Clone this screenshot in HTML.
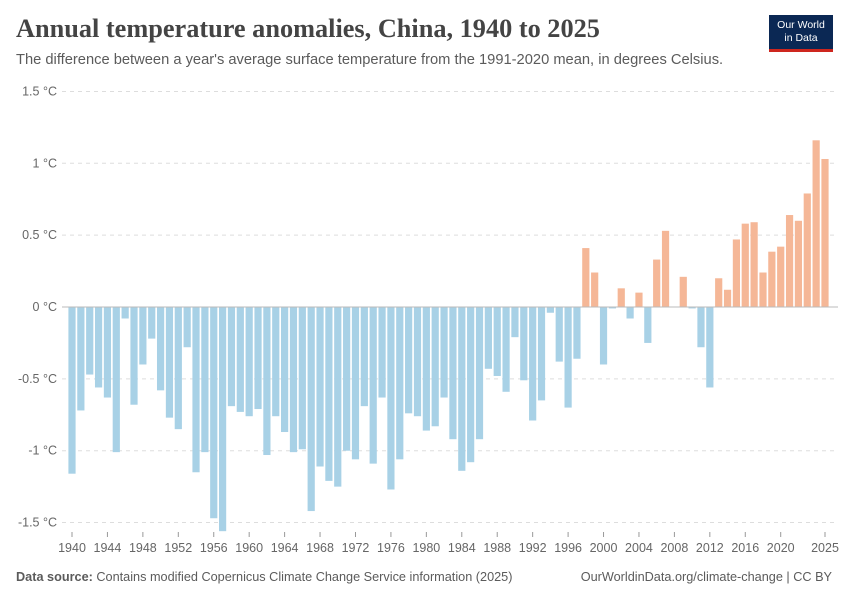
<!DOCTYPE html>
<html><head><meta charset="utf-8"><style>
body{margin:0;background:#fff;font-family:"Liberation Sans",sans-serif;}
#wrap{position:relative;width:850px;height:600px;overflow:hidden}
h1{position:absolute;left:16px;top:14px;margin:0;font-family:"Liberation Serif",serif;font-weight:bold;font-size:26.3px;color:#444;letter-spacing:0px}
.sub{position:absolute;left:16px;top:52px;font-size:14.7px;color:#5b5b5b}
.logo{position:absolute;left:769px;top:15px;width:64px;height:37px;background:#0b2854;color:#fff;font-size:10.5px;text-align:center;line-height:13px;padding-top:4px;box-sizing:border-box;border-bottom:3px solid #ce261e}
.foot{position:absolute;top:570px;font-size:12.7px;color:#5b5b5b}
</style></head><body><div id="wrap">
<h1>Annual temperature anomalies, China, 1940 to 2025</h1>
<div class="sub">The difference between a year's average surface temperature from the 1991-2020 mean, in degrees Celsius.</div>
<div class="logo">Our World<br>in Data</div>
<svg id="svg" width="850" height="600" style="position:absolute;left:0;top:0"></svg>
<div class="foot" style="left:16px"><b>Data source:</b> Contains modified Copernicus Climate Change Service information (2025)</div>
<div class="foot" style="right:18px">OurWorldinData.org/climate-change | CC BY</div>
</div>
<script>
const years=[];for(let y=1940;y<=2025;y++)years.push(y);
const values=[-1.16,-0.72,-0.47,-0.56,-0.63,-1.01,-0.08,-0.68,-0.40,-0.22,
-0.58,-0.77,-0.85,-0.28,-1.15,-1.01,-1.47,-1.56,-0.69,-0.73,
-0.76,-0.71,-1.03,-0.76,-0.87,-1.01,-0.99,-1.42,-1.11,-1.21,
-1.25,-1.00,-1.06,-0.69,-1.09,-0.63,-1.27,-1.06,-0.74,-0.76,
-0.86,-0.83,-0.63,-0.92,-1.14,-1.08,-0.92,-0.43,-0.48,-0.59,
-0.21,-0.51,-0.79,-0.65,-0.04,-0.38,-0.70,-0.36,0.41,0.24,
-0.40,-0.01,0.13,-0.08,0.10,-0.25,0.33,0.53,0.0,0.21,
-0.01,-0.28,-0.56,0.20,0.12,0.47,0.58,0.59,0.24,0.385,
0.42,0.64,0.60,0.79,1.16,1.03];
const yTicks=[1.5,1,0.5,0,-0.5,-1,-1.5];
const yTickLabels=["1.5 °C","1 °C","0.5 °C","0 °C","-0.5 °C","-1 °C","-1.5 °C"];
const xTicks=[1940,1944,1948,1952,1956,1960,1964,1968,1972,1976,1980,1984,1988,1992,1996,2000,2004,2008,2012,2016,2020,2025];
const svg=document.getElementById('svg'),NS='http://www.w3.org/2000/svg';
const X=y=>72+(y-1940)*(825-72)/85;
const Y=v=>307-v*143.7;
function mk(t,a){const e=document.createElementNS(NS,t);for(const k in a)e.setAttribute(k,a[k]);svg.appendChild(e);return e;}
yTicks.forEach((v,i)=>{
 if(v!==0){const g=mk('line',{x1:62,x2:838,y1:Y(v),y2:Y(v),stroke:'#ddd','stroke-dasharray':'4,4'});
 
 }
 const t=mk('text',{x:57,y:Y(v)+4,'text-anchor':'end','font-size':12.5,fill:'#666','font-family':'Liberation Sans'});
 t.textContent=yTickLabels[i];
 
 
});
years.forEach((yr,i)=>{
 const v=values[i];const y0=Y(0),y1=Y(v);
 const r=mk('rect',{x:X(yr)-3.6,width:7.2,y:Math.min(y0,y1),height:Math.abs(y1-y0),fill:v>=0?'#f5b797':'#a8d1e6'});
 
 
});
const ax=mk('line',{x1:62,x2:838,y1:Y(0),y2:Y(0),stroke:'#bbb','stroke-width':1});


xTicks.forEach(yr=>{
 const l=mk('line',{x1:X(yr),x2:X(yr),y1:532,y2:537,stroke:'#999'});
 
 
 const t=mk('text',{x:X(yr),y:552,'text-anchor':'middle','font-size':12.5,fill:'#666','font-family':'Liberation Sans'});
 t.textContent=yr;
 
 
});
</script></body></html>
